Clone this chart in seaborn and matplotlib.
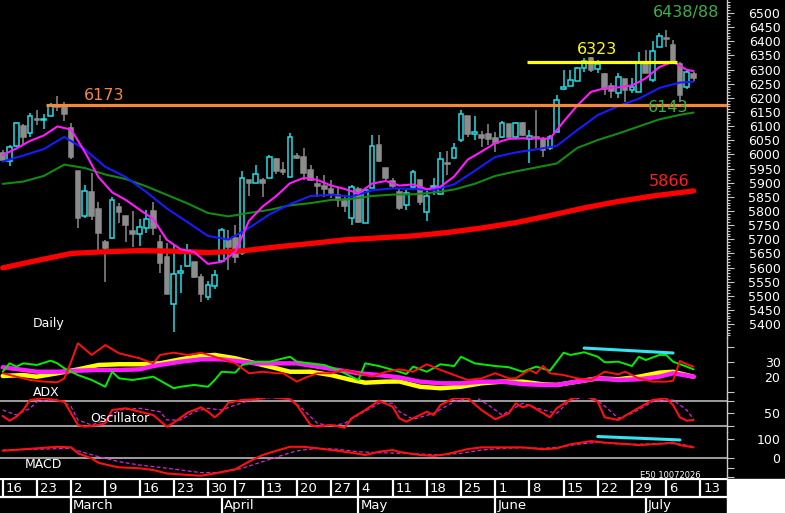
import numpy as np
import pandas as pd
import matplotlib
matplotlib.use("Agg")
import matplotlib.pyplot as plt
import seaborn as sns
from matplotlib.patches import Rectangle

sns.set_style("dark")
plt.rcParams["font.family"] = ["DejaVu Sans"]

# ------------------------------------------------------------------ data
holidays = pd.to_datetime(["2026-04-03", "2026-04-06", "2026-05-01"])
days = pd.bdate_range("2026-02-16", "2026-07-17")
days = days[~days.isin(holidays)]   # trading days, candles run Feb 16 .. Jul 10

opens = [6005, 5977, 6030, 6100, 6077, 6127, 6122, 6137, 6175, 6168,
         6092, 5941, 5783, 5868, 5806, 5690, 5704, 5814, 5782, 5729,
         5718, 5739, 5800, 5692, 5639, 5470, 5582, 5607, 5619, 5568,
         5495, 5535, 5624, 5697, 5705, 5651, 5909, 5900, 5910, 5916,
         5983, 5945, 5921, 5994, 5992, 5945, 5896, 5890, 5878, 5857,
         5835, 5774, 5878, 5759, 5880, 6033, 5953, 5906, 5866, 5821,
         5886, 5910, 5798, 5884, 5859, 5971, 5986, 6051, 6136, 6072,
         6069, 6071, 6057, 6061, 6107, 6061, 6112, 6055, 6063, 6053,
         6022, 6080, 6230, 6243, 6261, 6305, 6340, 6301, 6283, 6242,
         6216, 6266, 6228, 6222, 6328, 6263, 6379, 6413, 6387, 6319,
         6237, 6283]
highs = [6016, 6033, 6116, 6107, 6148, 6157, 6142, 6181, 6207, 6185,
         6111, 5941, 5892, 5934, 5832, 5698, 5851, 5828, 5782, 5800,
         5772, 5804, 5833, 5715, 5687, 5680, 5609, 5682, 5619, 5576,
         5554, 5591, 5740, 5733, 5751, 5943, 5910, 5963, 5917, 5998,
         5988, 5974, 6077, 6006, 6022, 5963, 5924, 5927, 5910, 5881,
         5857, 5892, 5885, 5882, 6069, 6069, 5953, 5916, 5880, 5874,
         5945, 5910, 5871, 5917, 6010, 6012, 6039, 6157, 6136, 6137,
         6083, 6107, 6080, 6118, 6107, 6116, 6116, 6086, 6157, 6063,
         6069, 6210, 6298, 6298, 6309, 6341, 6346, 6334, 6288, 6251,
         6287, 6266, 6269, 6363, 6369, 6401, 6428, 6440, 6405, 6328,
         6295, 6290]
lows = [5973, 5960, 6028, 6037, 6063, 6104, 6090, 6137, 6154, 6118,
        5984, 5740, 5776, 5768, 5660, 5549, 5700, 5758, 5692, 5674,
        5676, 5722, 5715, 5580, 5506, 5373, 5511, 5603, 5563, 5479,
        5485, 5524, 5621, 5591, 5616, 5646, 5854, 5899, 5851, 5916,
        5931, 5927, 5920, 5983, 5910, 5906, 5851, 5851, 5845, 5815,
        5798, 5751, 5757, 5757, 5880, 5974, 5910, 5882, 5804, 5804,
        5874, 5821, 5765, 5857, 5857, 5927, 5986, 6045, 6063, 6051,
        6027, 6033, 6010, 6057, 6057, 6057, 6066, 5969, 6023, 5992,
        6016, 6080, 6228, 6243, 6260, 6292, 6292, 6287, 6210, 6198,
        6198, 6186, 6216, 6222, 6287, 6257, 6379, 6381, 6328, 6184,
        6231, 6261]
closes = [5980, 6027, 6110, 6063, 6136, 6120, 6126, 6175, 6168, 6143,
          5992, 5775, 5871, 5783, 5723, 5669, 5839, 5798, 5751, 5718,
          5742, 5772, 5739, 5615, 5506, 5577, 5589, 5662, 5568, 5507,
          5538, 5573, 5733, 5672, 5636, 5918, 5900, 5931, 5898, 5990,
          5943, 5938, 6061, 5988, 5935, 5910, 5890, 5878, 5863, 5839,
          5819, 5884, 5762, 5874, 6031, 5978, 5916, 5890, 5810, 5865,
          5939, 5831, 5853, 5887, 5983, 5966, 6022, 6143, 6071, 6080,
          6059, 6053, 6039, 6112, 6061, 6110, 6069, 6065, 6057, 6016,
          6063, 6192, 6237, 6263, 6307, 6330, 6298, 6319, 6231, 6224,
          6275, 6228, 6240, 6328, 6287, 6367, 6419, 6408, 6330, 6210,
          6290, 6269]

# moving averages (at every 2nd / 3rd / 5th session)
ma_fast_idx = list(range(0, 101, 2)) + [101]
ma_fast = [5998, 6021, 6048, 6067, 6099, 6088, 6009, 5920, 5866, 5839,
           5805, 5772, 5698, 5665, 5655, 5613, 5620, 5655, 5765, 5816,
           5853, 5898, 5917, 5910, 5890, 5878, 5862, 5897, 5906, 5890,
           5894, 5877, 5886, 5922, 5982, 6010, 6040, 6055, 6057, 6056,
           6056, 6116, 6173, 6221, 6234, 6237, 6244, 6269, 6309, 6328,
           6299, 6295]
ma_mid_idx = list(range(0, 100, 3)) + [101]
ma_mid = [5975, 5996, 6019, 6062, 6018, 5956, 5920, 5867, 5809, 5761,
          5712, 5699, 5740, 5788, 5824, 5853, 5857, 5851, 5873, 5880,
          5878, 5874, 5894, 5942, 5991, 6007, 6018, 6030, 6086, 6139,
          6171, 6197, 6235, 6254, 6257]
ma_slow = [5896, 5904, 5924, 5964, 5952, 5929, 5913, 5887, 5857, 5827,
           5793, 5781, 5793, 5804, 5820, 5828, 5839, 5843, 5853, 5858,
           5859, 5865, 5876, 5896, 5924, 5940, 5954, 5968, 6023, 6051,
           6074, 6099, 6124, 6140, 6148]
ma_200_idx = list(range(0, 100, 5)) + [101]
ma_200 = [5599, 5625, 5650, 5656, 5660, 5658, 5653, 5659, 5673, 5685,
          5698, 5705, 5712, 5724, 5740, 5759, 5784, 5811, 5834, 5853, 5871]

# ADX panel
di_plus_idx = [0, 1, 2, 3, 5, 7, 8, 9, 11, 13, 15, 16, 17, 19, 22, 25, 26, 28, 30, 31,
               32, 34, 35, 37, 39, 40, 42, 43, 45, 47, 49, 51, 52, 53, 55, 58, 59, 60, 62, 64,
               66, 67, 69, 72, 74, 76, 78, 80, 82, 83, 85, 87, 88, 90, 92, 93, 94, 96, 97, 98,
               100, 101]
di_plus = [23.5, 29.1, 26.9, 29.1, 28, 30.9, 29.1, 25.8, 21.3, 18,
           13.5, 23.5, 19.1, 18, 20.2, 12.5, 13.5, 14.7, 13.5, 18,
           23.5, 22.9, 28, 30.2, 30.2, 31.3, 33.5, 30.2, 29.1, 28,
           24.7, 20.2, 18, 29.1, 27.3, 23.5, 22, 26.9, 23.5, 28.5,
           27.3, 33.5, 29.1, 27.3, 26.5, 23.5, 26.9, 24.2, 36.2, 34.7,
           36.5, 33.5, 29.8, 30.2, 27.3, 33.5, 31.3, 34.7, 34.7, 30.2,
           26.9, 25.1]
di_minus_idx = [0, 2, 4, 6, 8, 9, 10, 11, 13, 15, 17, 18, 20, 22, 23, 25, 27, 29, 31, 34,
                36, 38, 40, 41, 43, 44, 46, 48, 50, 52, 54, 56, 58, 60, 62, 64, 66, 68, 70, 72,
                74, 75, 77, 78, 79, 80, 82, 84, 86, 88, 90, 91, 93, 95, 97, 98, 99, 100, 101]
di_minus = [22.5, 20.2, 18, 16.9, 16.5, 19, 30.2, 42.5, 34.7, 41.3,
            35.8, 34.7, 32.5, 29.1, 34.7, 36.2, 34.7, 36.2, 33.5, 29.1,
            22.5, 23.5, 22.5, 22.5, 16.9, 19.1, 22.5, 22.5, 24.7, 22.5,
            20.2, 23.5, 25.1, 23.5, 28.5, 24.7, 21.3, 18, 19.1, 22.5,
            19.1, 19.1, 24.7, 22.5, 27.3, 22.5, 21.3, 19.1, 18, 23.5,
            21.8, 23.5, 19.1, 16.9, 16.9, 17.5, 30.7, 28.5, 26.9]
adx_y_idx = [0, 3, 5, 8, 11, 14, 17, 20, 23, 26, 29, 31, 34, 37, 40, 42, 45, 48, 51, 53,
             56, 58, 61, 64, 67, 70, 73, 76, 79, 81, 84, 87, 90, 93, 96, 98, 101]
adx_y = [20.7, 21.3, 20.2, 22.5, 25.1, 28, 28.5, 28.5, 29.1, 31.8,
         34, 34.7, 32.5, 29.1, 25.8, 23.5, 23.5, 21.3, 18, 16.2,
         16.9, 17, 13.5, 12.5, 13.5, 15.8, 16.9, 16.9, 15.1, 14.7,
         16.9, 19.1, 18.5, 20.2, 22.9, 23.5, 20.2]
adx_m_idx = [0, 3, 5, 8, 11, 14, 17, 20, 22, 26, 29, 32, 35, 37, 40, 43, 46, 49, 52, 55,
             58, 61, 64, 67, 70, 73, 76, 79, 81, 84, 87, 90, 93, 96, 98, 101]
adx_m = [26.5, 24.7, 23.5, 23.5, 24.2, 24.7, 24.7, 25.1, 27.3, 30.2,
         31.8, 31.8, 30.2, 29.1, 29.1, 29.1, 26.9, 24.7, 22.5, 21.3,
         19.7, 16.9, 15.8, 15.8, 16.9, 16.9, 15.3, 14.7, 14.7, 16.9,
         19.1, 18, 18.5, 20.2, 22.5, 20.2]

# oscillator panel
osc_idx = [0, 1, 2, 3, 4, 6, 7, 9, 10, 11, 12, 14, 15, 16, 18, 20, 22, 24, 25, 27,
           29, 30, 31, 32, 33, 35, 37, 39, 42, 43, 45, 46, 48, 50, 51, 53, 55, 57, 58, 59,
           60, 62, 63, 64, 66, 68, 70, 72, 74, 75, 76, 77, 80, 81, 83, 85, 87, 88, 90, 92,
           95, 97, 98, 99, 100, 101]
osc = [42.8, 31.5, 41.1, 57.2, 81.2, 85.3, 82.9, 77.1, 49.3, 21.2,
       17.1, 21.2, 25.3, 57.2, 61.3, 53.1, 45.2, 17.1, 26.7, 50.7,
       63.7, 53.1, 39.7, 53.1, 74.7, 81.2, 82.9, 89.1, 82.9, 69.2,
       21.2, 17.1, 21.2, 14.7, 37.3, 57.2, 79.5, 65.1, 37.3, 29.1,
       37.3, 53.1, 45.2, 69.2, 85.3, 85.3, 57.2, 34.9, 49.3, 73.3,
       63.7, 69.2, 39.7, 61.3, 82.9, 93.2, 77.1, 39.7, 33.2, 53.1,
       81.2, 85.3, 69.2, 39.7, 31.5, 33.2]
osc_sig_idx = [0, 2, 4, 5, 8, 10, 11, 13, 15, 17, 20, 23, 24, 26, 28, 30, 32, 34, 36, 39,
               42, 44, 46, 48, 50, 52, 55, 57, 58, 60, 63, 66, 69, 71, 73, 76, 79, 81, 83, 86,
               88, 90, 92, 95, 98, 100, 101]
osc_sig = [57.2, 45.2, 61.3, 77.1, 82.9, 65.1, 33.2, 21.2, 33.2, 57.2,
           61.3, 53.1, 33.2, 33.2, 53.1, 61.3, 57.2, 69.2, 79.5, 86.7,
           85.3, 57.2, 25.3, 18.8, 25.3, 45.2, 73.3, 73.3, 53.1, 34.9,
           49.3, 77.1, 89.1, 69.2, 45.2, 73.3, 57.2, 49.3, 81.2, 90.8,
           66.8, 37.3, 49.3, 77.1, 81.2, 57.2, 34.9]

# MACD panel
macd_idx = [0, 3, 5, 8, 10, 11, 13, 14, 16, 17, 20, 22, 24, 27, 29, 31, 34, 36, 38, 40,
            42, 44, 46, 49, 51, 53, 55, 57, 58, 61, 63, 65, 68, 70, 73, 76, 79, 81, 83, 86,
            88, 91, 93, 96, 98, 99, 101]
macd = [38, 46, 51, 59, 56, 25, -2, -25, -42, -49,
        -54, -63, -81, -89, -93, -81, -59, -19, 16, 38,
        59, 59, 51, 38, 28, 16, 33, 42, 32, 16,
        11, 21, 47, 56, 56, 56, 46, 51, 72, 89,
        81, 74, 68, 74, 81, 68, 56]
macd_sig_idx = [0, 5, 10, 11, 14, 17, 20, 23, 26, 29, 32, 35, 38, 41, 43, 46, 49, 52, 55, 58,
                61, 64, 67, 70, 73, 76, 79, 81, 84, 87, 90, 93, 96, 99, 101]
macd_sig = [42, 46, 51, 38, 7, -19, -37, -49, -63, -77,
            -77, -54, -19, 16, 38, 51, 46, 33, 28, 25,
            21, 16, 25, 42, 51, 54, 51, 56, 72, 83,
            74, 72, 77, 74, 59]

# drawn annotations
support, resist = 6175, 6328
adx_div_idx, adx_div = [85, 98], [39.3, 36.0]
macd_div_idx, macd_div = [87, 99], [113, 95]
week_labels = ["16", "23", "2", "9", "16", "23", "30", "7", "13", "20", "27",
               "4", "11", "18", "25", "1", "8", "15", "22", "29", "6", "13"]
month_labels = ["March", "April", "May", "June", "July"]

# ------------------------------------------------------------------ layout
W, H = 785, 513
PR = 727                     # right edge of plot area in px
PX0, PXD = 2.7, 6.84         # px of session 0 and px per session
XL = ((0 - PX0) / PXD, (PR - PX0) / PXD)
CYAN, GREY = "#22dde6", "#8c8c8c"
AXC = "#c8c8c8"

fig = plt.figure(figsize=(W / 100, H / 100), dpi=100, facecolor="black")


def panel(top, bottom):
    ax = fig.add_axes([0, 1 - bottom / H, PR / W, (bottom - top) / H])
    ax.set_facecolor("none")
    ax.grid(False)
    for s in ["top", "left", "bottom"]:
        ax.spines[s].set_visible(False)
    ax.spines["right"].set_color(AXC)
    ax.spines["right"].set_linewidth(1)
    ax.set_xticks([])
    ax.yaxis.tick_right()
    ax.tick_params(axis="y", which="major", length=5, width=0.8, color=AXC,
                   labelcolor="white", labelsize=9, pad=33.5, right=True)
    ax.tick_params(axis="y", which="minor", length=2.5, width=0.8, color=AXC, right=True)
    return ax


def finish(ax, ylim, ticks, labels, minor=None):
    ax.set_xlim(XL)
    ax.set_ylim(ylim)
    ax.set_yticks(ticks, labels)
    if minor is not None:
        ax.set_yticks(minor, minor=True)
    ax.set_xlabel("")
    ax.set_ylabel("")
    plt.setp(ax.get_yticklabels(), ha="right")


def ftext(x, y, s, **kw):
    fig.text(x / W, 1 - y / H, s, **kw)


# ---- price panel
ax = panel(0, 338)
o, hi, lo, c = (np.array(v, dtype=float) for v in (opens, highs, lows, closes))
x = np.arange(len(c))
up = c >= o
ax.vlines(x[up], lo[up], hi[up], color=CYAN, lw=1.1, zorder=2)
ax.vlines(x[~up], lo[~up], hi[~up], color=GREY, lw=1.1, zorder=2)
ax.bar(x[up], c[up] - o[up], bottom=o[up], width=0.68, facecolor="black",
       edgecolor=CYAN, linewidth=1.1, zorder=3)
ax.bar(x[~up], o[~up] - c[~up], bottom=c[~up], width=0.68, facecolor=GREY,
       edgecolor=GREY, linewidth=1.1, zorder=3)

sns.lineplot(x=ma_200_idx, y=ma_200, ax=ax, color="#ff0000", linewidth=3.8, zorder=4)
sns.lineplot(x=ma_mid_idx, y=ma_slow, ax=ax, color="#138a13", linewidth=1.5, zorder=4)
sns.lineplot(x=ma_mid_idx, y=ma_mid, ax=ax, color="#1a1aff", linewidth=1.5, zorder=4)
sns.lineplot(x=ma_fast_idx, y=ma_fast, ax=ax, color="#ff1aff", linewidth=1.5, zorder=5)

ax.hlines(support, 6.3, XL[1], color="#f5893a", lw=2.3, zorder=6)
ax.hlines(resist, 76.6, 98.6, color="#ffff00", lw=2.3, zorder=6)
finish(ax, (5351, 6546), np.arange(5400, 6501, 50), None,
       minor=np.arange(5360, 6541, 10))

# ---- ADX panel
ax = panel(338, 398)
sns.lineplot(x=adx_y_idx, y=adx_y, ax=ax, color="#ffff00", linewidth=3.2, zorder=2)
sns.lineplot(x=adx_m_idx, y=adx_m, ax=ax, color="#ff1aff", linewidth=3.2, zorder=3)
sns.lineplot(x=di_plus_idx, y=di_plus, ax=ax, color="#00ee00", linewidth=1.4, zorder=4)
sns.lineplot(x=di_minus_idx, y=di_minus, ax=ax, color="#ff1010", linewidth=1.4, zorder=4)
sns.lineplot(x=adx_div_idx, y=adx_div, ax=ax, color="#33e4f2", linewidth=2.2, zorder=5)
finish(ax, (6, 46), [10, 20, 30, 40], ["", "20", "30", ""])

# ---- oscillator panel
ax = panel(398, 432)
ax.axhline(80, color=AXC, lw=1.1, zorder=1)
ax.axhline(20, color=AXC, lw=1.1, zorder=1)
sns.lineplot(x=osc_sig_idx, y=osc_sig, ax=ax, color="#e020e0", linewidth=0.9,
             linestyle=(0, (3, 2)), zorder=2)
sns.lineplot(x=osc_idx, y=osc, ax=ax, color="#ff1010", linewidth=1.5, zorder=3)
finish(ax, (4.4, 86), [20, 50, 80], ["", "50", ""])

# ---- MACD panel
ax = panel(432, 478)
ax.axhline(0, color=AXC, lw=1.1, zorder=1)
sns.lineplot(x=macd_sig_idx, y=macd_sig, ax=ax, color="#e020e0", linewidth=0.9,
             linestyle=(0, (3, 2)), zorder=2)
sns.lineplot(x=macd_idx, y=macd, ax=ax, color="#ff1010", linewidth=1.5, zorder=3)
sns.lineplot(x=macd_div_idx, y=macd_div, ax=ax, color="#33e4f2", linewidth=2.2, zorder=5)
finish(ax, (-105, 136.8), [-100, -50, 0, 100], ["", "", "0", "100"])

# ---- date strip
axd = fig.add_axes([0, 0, PR / W, 35 / H])
axd.set_facecolor("black")
axd.grid(False)
for s in axd.spines.values():
    s.set_visible(False)
axd.set_xticks([])
axd.set_yticks([])
axd.set_xlim(XL)
axd.set_ylim(0, 35)
week_pos = [i for i in range(len(days)) if i == 0 or days[i].weekday() <= days[i - 1].weekday()]
month_pos = [i for i in range(1, len(days)) if days[i].month != days[i - 1].month]
axd.axhline(34, color="white", lw=1.6)
axd.axhline(16, color="white", lw=1.6)
axd.vlines(week_pos, 16, 34, color="white", lw=1.6)
axd.vlines(month_pos, 0, 16, color="white", lw=1.6)
for p, s in zip(week_pos, week_labels):
    axd.text(p + 0.45, 25, s, color="white", fontsize=9.5, ha="left", va="center")
for p, s in zip(month_pos, month_labels):
    axd.text(p + 0.3, 7.5, s, color="white", fontsize=9.5, ha="left", va="center")
fig.patches.append(Rectangle((PR / W, 0), (W - PR) / W, 34 / H,
                             transform=fig.transFigure, color="white", zorder=0))

# ---- text annotations
ftext(104, 96, "6173", color="#f5893a", fontsize=11.5, ha="center", va="center")
ftext(597, 50, "6323", color="#ffff00", fontsize=11.5, ha="center", va="center")
ftext(686, 12, "6438/88", color="#3cb043", fontsize=11.5, ha="center", va="center")
ftext(668, 108, "6143", color="#3cb043", fontsize=11.5, ha="center", va="center")
ftext(669, 182, "5866", color="#ff2020", fontsize=11.5, ha="center", va="center")
ftext(33, 323, "Daily", color="white", fontsize=9, ha="left", va="center")
ftext(33, 392, "ADX", color="white", fontsize=9, ha="left", va="center")
ftext(90, 418, "Oscillator", color="white", fontsize=9, ha="left", va="center")
ftext(25, 465, "MACD", color="white", fontsize=9, ha="left", va="center")
ftext(670, 475, "E50 10072026", color="white", fontsize=6, ha="center", va="center")

fig.savefig("out.png", dpi=100, facecolor="black")
